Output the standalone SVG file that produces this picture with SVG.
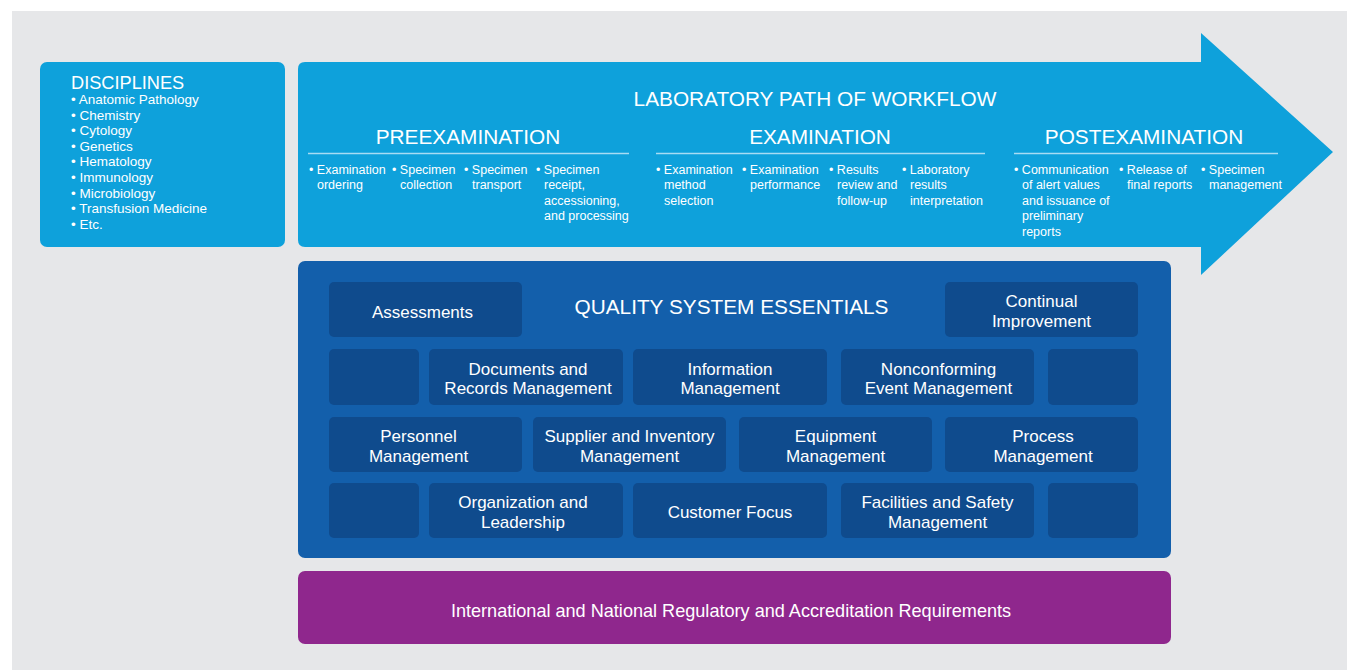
<svg xmlns="http://www.w3.org/2000/svg" width="1347" height="670" viewBox="0 0 1347 670">
<style>
text{font-family:"Liberation Sans",Arial,sans-serif;fill:#ffffff}
.h{font-size:20.8px;text-anchor:middle}
.d{font-size:13.5px}
.i{font-size:12.5px}
.b{font-size:17px;text-anchor:middle}
.box{fill:#0f4b8d}
.rule{stroke:#a8dcf3;stroke-width:1.5}
</style>
<rect x="0" y="0" width="1347" height="670" fill="#ffffff"/>
<rect x="12" y="11" width="1335" height="659" fill="#e6e7e9"/>
<g id="disciplines">
<rect x="40" y="62" width="245" height="185" rx="7" fill="#0ea1db"/>
<text x="71" y="89" style="font-size:18.2px">DISCIPLINES</text>
<text class="d"><tspan x="71" y="104">• Anatomic Pathology</tspan><tspan x="71" y="119.6">• Chemistry</tspan><tspan x="71" y="135.2">• Cytology</tspan><tspan x="71" y="150.8">• Genetics</tspan><tspan x="71" y="166.4">• Hematology</tspan><tspan x="71" y="182">• Immunology</tspan><tspan x="71" y="197.6">• Microbiology</tspan><tspan x="71" y="213.2">• Transfusion Medicine</tspan><tspan x="71" y="228.8">• Etc.</tspan></text>
</g>
<g id="workflow">
<path d="M305,62 H1201 V33 L1333,152 L1201,275 V247 H305 Q298,247 298,240 V69 Q298,62 305,62 Z" fill="#0ea1db"/>
<text class="h" x="815" y="105.5">LABORATORY PATH OF WORKFLOW</text>
<text class="h" x="468" y="143.5">PREEXAMINATION</text>
<text class="h" x="820" y="143.5">EXAMINATION</text>
<text class="h" x="1144" y="143.5">POSTEXAMINATION</text>
<line class="rule" x1="308" y1="153.5" x2="629" y2="153.5"/>
<line class="rule" x1="656" y1="153.5" x2="985" y2="153.5"/>
<line class="rule" x1="1014" y1="153.5" x2="1278" y2="153.5"/>
<g class="i">
<text class="i"><tspan x="309" y="173.5">• Examination</tspan><tspan x="317" y="189">ordering</tspan></text>
<text class="i"><tspan x="392" y="173.5">• Specimen</tspan><tspan x="400" y="189">collection</tspan></text>
<text class="i"><tspan x="464" y="173.5">• Specimen</tspan><tspan x="472" y="189">transport</tspan></text>
<text class="i"><tspan x="536" y="173.5">• Specimen</tspan><tspan x="544" y="189">receipt,</tspan><tspan x="544" y="204.5">accessioning,</tspan><tspan x="544" y="220">and processing</tspan></text>
<text class="i"><tspan x="656" y="173.5">• Examination</tspan><tspan x="664" y="189">method</tspan><tspan x="664" y="204.5">selection</tspan></text>
<text class="i"><tspan x="742" y="173.5">• Examination</tspan><tspan x="750" y="189">performance</tspan></text>
<text class="i"><tspan x="829" y="173.5">• Results</tspan><tspan x="837" y="189">review and</tspan><tspan x="837" y="204.5">follow-up</tspan></text>
<text class="i"><tspan x="902" y="173.5">• Laboratory</tspan><tspan x="910" y="189">results</tspan><tspan x="910" y="204.5">interpretation</tspan></text>
<text class="i"><tspan x="1014" y="173.5">• Communication</tspan><tspan x="1022" y="189">of alert values</tspan><tspan x="1022" y="204.5">and issuance of</tspan><tspan x="1022" y="220">preliminary</tspan><tspan x="1022" y="235.5">reports</tspan></text>
<text class="i"><tspan x="1119" y="173.5">• Release of</tspan><tspan x="1127" y="189">final reports</tspan></text>
<text class="i"><tspan x="1201" y="173.5">• Specimen</tspan><tspan x="1209" y="189">management</tspan></text>
</g>
</g>
<g id="qse">
<rect x="298" y="261" width="873" height="297" rx="7" fill="#135fab"/>
<text class="h" x="731.5" y="313.5">QUALITY SYSTEM ESSENTIALS</text>
</g>
<g id="assessments"><rect class="box" x="329" y="282" width="193" height="55" rx="5"/><text class="b" x="422.5" y="318">Assessments</text></g>
<g id="continual-improvement"><rect class="box" x="945" y="282" width="193" height="55" rx="5"/><text class="b"><tspan x="1041.5" y="307">Continual</tspan><tspan x="1041.5" y="326.5">Improvement</tspan></text></g>
<g id="blank-r2-left"><rect class="box" x="329" y="349" width="90" height="56" rx="5"/></g>
<g id="documents"><rect class="box" x="429" y="349" width="194" height="56" rx="5"/><text class="b"><tspan x="528" y="374.5">Documents and</tspan><tspan x="528" y="394">Records Management</tspan></text></g>
<g id="information"><rect class="box" x="633" y="349" width="194" height="56" rx="5"/><text class="b"><tspan x="730" y="374.5">Information</tspan><tspan x="730" y="394">Management</tspan></text></g>
<g id="nonconforming"><rect class="box" x="841" y="349" width="193" height="56" rx="5"/><text class="b"><tspan x="938.5" y="374.5">Nonconforming</tspan><tspan x="938.5" y="394">Event Management</tspan></text></g>
<g id="blank-r2-right"><rect class="box" x="1048" y="349" width="90" height="56" rx="5"/></g>
<g id="personnel"><rect class="box" x="329" y="417" width="193" height="55" rx="5"/><text class="b"><tspan x="418.5" y="442">Personnel</tspan><tspan x="418.5" y="462">Management</tspan></text></g>
<g id="supplier"><rect class="box" x="533" y="417" width="193" height="55" rx="5"/><text class="b"><tspan x="629.5" y="442">Supplier and Inventory</tspan><tspan x="629.5" y="462">Management</tspan></text></g>
<g id="equipment"><rect class="box" x="739" y="417" width="193" height="55" rx="5"/><text class="b"><tspan x="835.5" y="442">Equipment</tspan><tspan x="835.5" y="462">Management</tspan></text></g>
<g id="process"><rect class="box" x="945" y="417" width="193" height="55" rx="5"/><text class="b"><tspan x="1043" y="442">Process</tspan><tspan x="1043" y="462">Management</tspan></text></g>
<g id="blank-r4-left"><rect class="box" x="329" y="483" width="90" height="55" rx="5"/></g>
<g id="organization"><rect class="box" x="429" y="483" width="194" height="55" rx="5"/><text class="b"><tspan x="523" y="508">Organization and</tspan><tspan x="523" y="527.5">Leadership</tspan></text></g>
<g id="customer-focus"><rect class="box" x="633" y="483" width="194" height="55" rx="5"/><text class="b" x="730" y="518">Customer Focus</text></g>
<g id="facilities"><rect class="box" x="841" y="483" width="193" height="55" rx="5"/><text class="b"><tspan x="937.5" y="508">Facilities and Safety</tspan><tspan x="937.5" y="527.5">Management</tspan></text></g>
<g id="blank-r4-right"><rect class="box" x="1048" y="483" width="90" height="55" rx="5"/></g>
<g id="requirements">
<rect x="298" y="571" width="873" height="73" rx="7" fill="#8f278d"/>
<text class="b" x="731" y="616.5" style="font-size:18.1px">International and National Regulatory and Accreditation Requirements</text>
</g>
<g id="connectors"/>
</svg>
